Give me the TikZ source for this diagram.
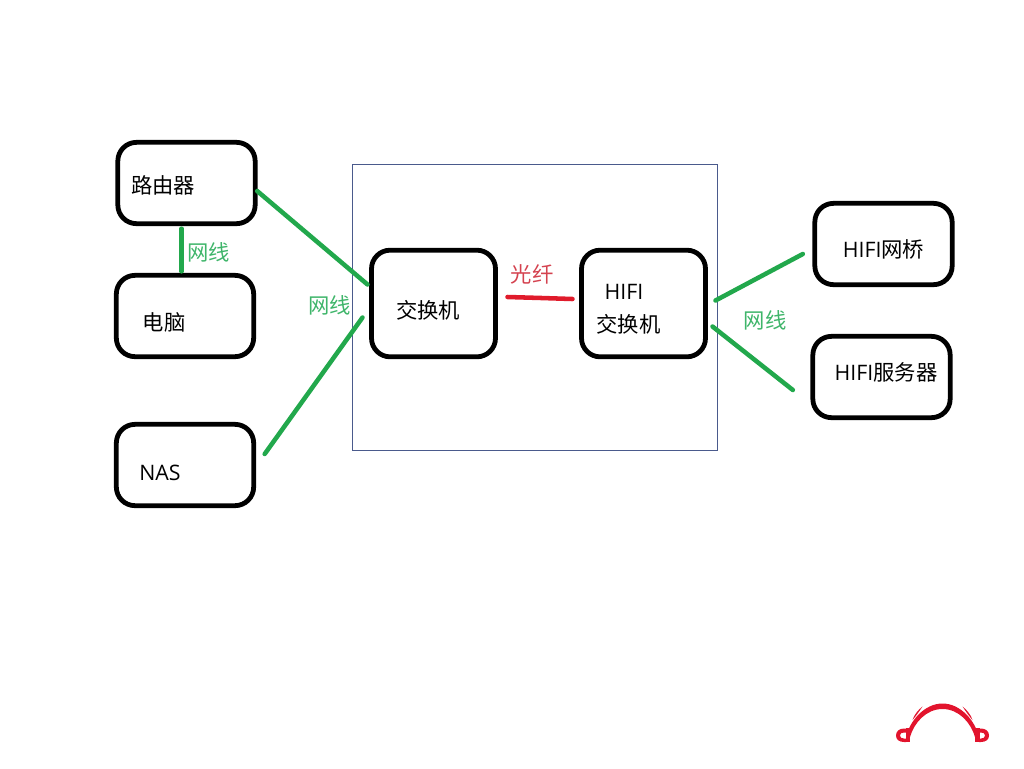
\documentclass[tikz,border=0pt]{standalone}
\usepackage{fontspec}
\setmainfont{Open Sans}
\newfontfamily\cjk{Noto Sans CJK SC}
\usetikzlibrary{calc}

\definecolor{netgreen}{HTML}{22A84C}
\definecolor{nettext}{HTML}{3FB56A}
\definecolor{fibrered}{HTML}{E01B2B}
\definecolor{fibretext}{HTML}{D4424F}
\definecolor{framecolor}{HTML}{4A5A8C}
\definecolor{logored}{HTML}{E2142D}

\begin{document}
\begin{tikzpicture}[
    x=0.75pt,
    y=-0.75pt,
    font=\fontsize{16}{18}\selectfont,
    devbox/.style={draw=black, line width=3.6pt, rounded corners=14pt, outer sep=0pt, inner sep=0pt, minimum width=103pt, minimum height=61pt},
    corebox/.style={devbox, minimum width=93pt, minimum height=80pt},
    netline/.style={draw=netgreen, line width=3.4pt, line cap=round},
    fibreline/.style={draw=fibrered, line width=3.4pt, line cap=round},
    netlabel/.style={text=nettext, inner sep=0pt},
    boxlabel/.style={text=black, inner sep=0pt}
]

    % Page
    \useasboundingbox (0,0) rectangle (1024,768);

    % Frame round the switches
    \draw[framecolor, line width=0.75pt] (352.5,164.5) rectangle (717,450);

    % Devices
    \node[devbox] (router) at (186.5,183) {};
    \node[devbox] (pc) at (185,316) {};
    \node[devbox] (nas) at (185,465) {};
    \node[corebox] (switch) at (433.5,303.5) {};
    \node[corebox] (hifiswitch) at (643.5,303.5) {};
    \node[devbox] (bridge) at (883.5,244) {};
    \node[devbox] (server) at (881.5,377) {};

    % Device names
    \node[boxlabel] (routertext) at (163,185) {\cjk 路由器};
    \node[boxlabel] (pctext) at (164,322) {\cjk 电脑};
    \node[boxlabel] (nastext) at (160,473) {NAS};
    \node[boxlabel] (switchtext) at (428,310) {\cjk 交换机};
    \node[boxlabel] (hifitext) at (624,292) {HIFI};
    \node[boxlabel] (hifiswitchtext) at (628.5,324) {\cjk 交换机};
    \node[boxlabel] (bridgetext) at (883.5,249) {HIFI{\cjk 网桥}};
    \node[boxlabel] (servertext) at (886,372) {HIFI{\cjk 服务器}};

    % Network cables
    \draw[netline] ($(router.south)+(-5,5)$) -- ($(pc.north)+(-3.5,-4)$);
    \draw[netline] ($(router.east)+(2,8)$) -- ($(switch.west)+(-4,-19)$);
    \draw[netline] ($(nas.east)+(11,-11)$) -- ($(switch.west)+(-9,14)$);
    \draw[netline] ($(hifiswitch.east)+(10,-3)$) -- ($(bridge.west)+(-12,10)$);
    \draw[netline] ($(hifiswitch.east)+(7,23)$) -- ($(server.west)+(-20,13)$);

    % Fibre
    \draw[fibreline] ($(switch.east)+(12,-6.5)$) -- ($(switch.east)+(46,-5.5)$) -- ($(hifiswitch.west)+(-9,-4.5)$);

    % Cable labels
    \node[netlabel] (netlabela) at (208.5,252.5) {\cjk 网线};
    \node[netlabel] (netlabelb) at (329.5,305.5) {\cjk 网线};
    \node[netlabel] (netlabelc) at (765,320.5) {\cjk 网线};
    \node[text=fibretext, inner sep=0pt] (fibrelabel) at (532,274) {\cjk 光纤};

    % Logo
    \fill[logored] (906,737) .. controls (910,720) and (925,703.5) .. (942.5,703.5)
        .. controls (960,703.5) and (975,720) .. (979,737)
        -- (975,737) .. controls (971,723) and (959,709) .. (942.5,709)
        .. controls (926,709) and (914,723) .. (910,737) -- cycle;
    \fill[logored] (912.5,720) .. controls (914,715) and (918,710) .. (922.5,706.5)
        .. controls (919.5,711) and (916,716) .. (912.5,720) -- cycle;
    \fill[logored] (972.5,720) .. controls (971,715) and (967,710) .. (962.5,706.5)
        .. controls (965.5,711) and (969,716) .. (972.5,720) -- cycle;
    \fill[logored] (905.5,728) rectangle (910,742);
    \fill[logored] (975,728) rectangle (979.5,742);
    \fill[logored, even odd rule] (904,728.5) .. controls (899,728.5) and (896,731.5) .. (896,735.5)
        .. controls (896,739.5) and (899,742) .. (904,742) -- (906,742) -- (906,728.5) -- cycle
        (906,732.5) -- (904,732.5) .. controls (901.5,732.5) and (900,733.5) .. (900,735.5)
        .. controls (900,737.5) and (901.5,738.5) .. (904,738.5) -- (906,738.5) -- cycle;
    \fill[logored, even odd rule] (981,728.5) .. controls (986,728.5) and (989,731.5) .. (989,735.5)
        .. controls (989,739.5) and (986,742) .. (981,742) -- (979,742) -- (979,728.5) -- cycle
        (979,732.5) -- (981,732.5) .. controls (983.5,732.5) and (985,733.5) .. (985,735.5)
        .. controls (985,737.5) and (983.5,738.5) .. (981,738.5) -- (979,738.5) -- cycle;

\end{tikzpicture}
\end{document}
